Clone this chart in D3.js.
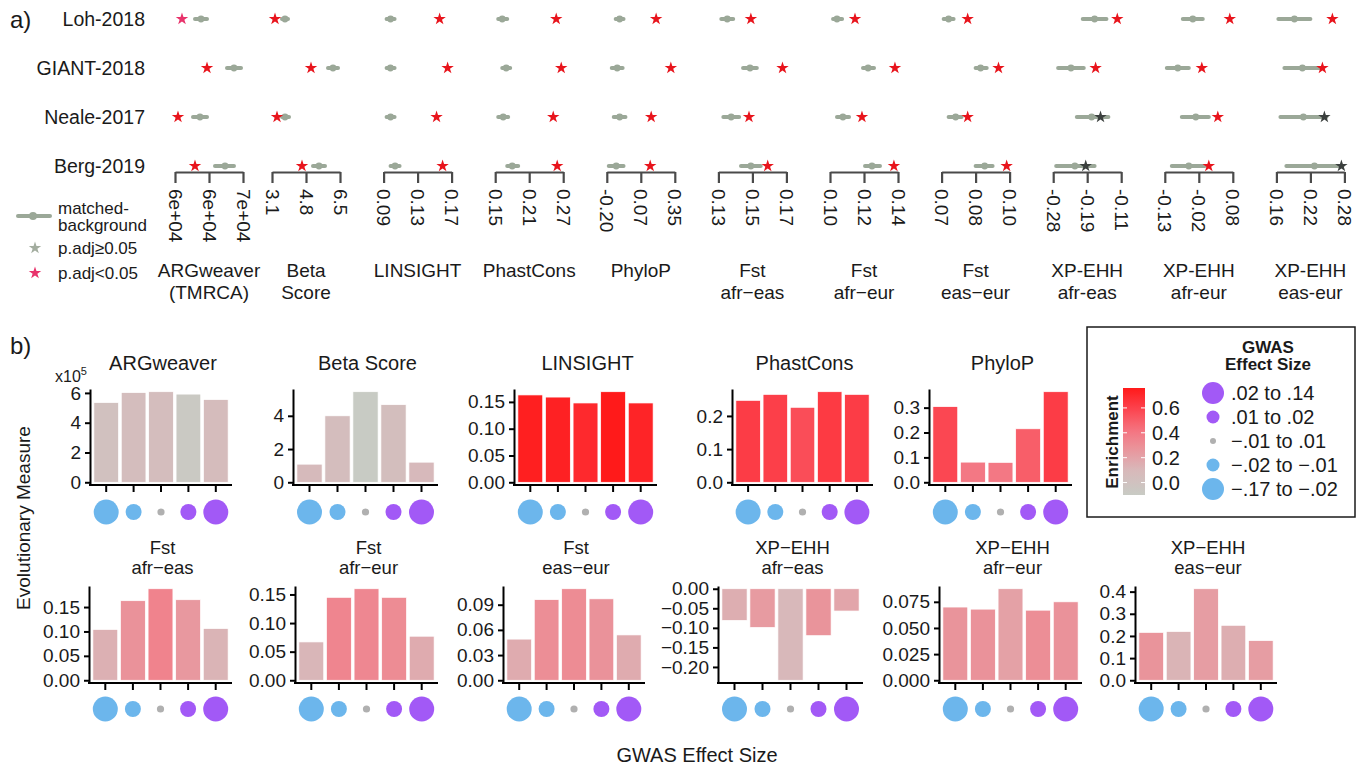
<!DOCTYPE html>
<html><head><meta charset="utf-8">
<script src="https://cdn.jsdelivr.net/npm/d3@7"></script>
<style>
body{margin:0;background:#fff}
text{font-family:"Liberation Sans",Arial,Helvetica,sans-serif;fill:#1a1a1a}
</style>
</head><body>
<svg id="c" width="1364" height="765"></svg>
<script>
// ================= DATA: panel a =================
const studies = ["Loh-2018", "GIANT-2018", "Neale-2017", "Berg-2019"];
const measuresA = ["ARGweaver\n(TMRCA)", "Beta\nScore", "LINSIGHT", "PhastCons", "PhyloP",
  "Fst\nafr\u2212eas", "Fst\nafr\u2212eur", "Fst\neas\u2212eur", "XP-EHH\nafr-eas", "XP-EHH\nafr-eur", "XP-EHH\neas-eur"];
const tickValuesA = [[55000, 62500, 70000], [3.1, 4.8, 6.5], [0.09, 0.13, 0.17], [0.15, 0.21, 0.27],
  [-0.20, 0.075, 0.35], [0.13, 0.15, 0.17], [0.10, 0.12, 0.14], [0.07, 0.085, 0.10],
  [-0.28, -0.195, -0.11], [-0.13, -0.025, 0.08], [0.16, 0.22, 0.28]];
const tickLabelsA = [["6e+04", "6e+04", "7e+04"], ["3.1", "4.8", "6.5"], ["0.09", "0.13", "0.17"],
  ["0.15", "0.21", "0.27"], ["-0.20", "0.07", "0.35"], ["0.13", "0.15", "0.17"], ["0.10", "0.12", "0.14"],
  ["0.07", "0.08", "0.10"], ["-0.28", "-0.19", "-0.11"], ["-0.13", "-0.02", "0.08"], ["0.16", "0.22", "0.28"]];

// observed (star) values
const starLoh   = [56540, 3.25, 0.1559, 0.2577, 0.199, 0.1491, 0.1147, 0.0815, -0.1198, 0.0707, 0.2588];
const starGiant = [62060, 5.05, 0.1653, 0.2665, 0.318, 0.1677, 0.1382, 0.0951, -0.174, -0.0157, 0.2412];
const starNeale = [55660, 3.35, 0.1523, 0.2524, 0.159, 0.148, 0.1188, 0.0815, -0.1617, 0.0337, 0.2447];
const starBerg  = [59410, 4.6, 0.1594, 0.2594, 0.151, 0.159, 0.1376, 0.0987, -0.1987, 0.0059, 0.2747];
// matched background: low, high, mean
const bgLowLoh    = [59410, 3.6, 0.0935, 0.1553, -0.128, 0.1317, 0.1018, 0.0709, -0.2061, -0.0744, 0.1635];
const bgHighLoh   = [62060, 3.9, 0.1029, 0.1712, -0.0645, 0.1387, 0.1071, 0.0753, -0.1469, -0.0127, 0.22];
const bgMeanLoh   = [60740, 3.75, 0.0982, 0.1624, -0.096, 0.1352, 0.1041, 0.0731, -0.1765, -0.0435, 0.1918];
const bgLowGiant  = [66470, 5.9, 0.0935, 0.1624, -0.16, 0.1445, 0.1194, 0.085, -0.2677, -0.1238, 0.1741];
const bgHighGiant = [69560, 6.4, 0.1029, 0.1765, -0.072, 0.1526, 0.1259, 0.0899, -0.2036, -0.0559, 0.2412];
const bgMeanGiant = [68010, 6.15, 0.098, 0.1694, -0.116, 0.1486, 0.1224, 0.0872, -0.2356, -0.0899, 0.2059];
const bgLowNeale  = [58970, 3.6, 0.0935, 0.1553, -0.144, 0.1329, 0.1041, 0.0731, -0.2209, -0.0775, 0.1671];
const bgHighNeale = [62060, 3.95, 0.1029, 0.1729, -0.049, 0.1422, 0.1112, 0.0788, -0.142, 0.0059, 0.2482];
const bgMeanNeale = [60510, 3.75, 0.0982, 0.1641, -0.096, 0.1375, 0.1076, 0.0762, -0.1839, -0.0343, 0.2076];
const bgLowBerg   = [63820, 5.15, 0.0982, 0.1712, -0.184, 0.1433, 0.1206, 0.085, -0.2726, -0.1084, 0.1776];
const bgHighBerg  = [68010, 5.75, 0.1088, 0.1906, -0.0645, 0.1549, 0.1294, 0.0925, -0.1765, -0.0065, 0.2765];
const bgMeanBerg  = [66030, 5.45, 0.1035, 0.18, -0.124, 0.1491, 0.1247, 0.089, -0.2258, -0.0559, 0.2271];
// star colour class: 2 = pink, 1 = red (p.adj<0.05), 0 = dark (p.adj>=0.05)
const sigLoh   = [2, 1, 1, 1, 1, 1, 1, 1, 1, 1, 1];
const sigGiant = [1, 1, 1, 1, 1, 1, 1, 1, 1, 1, 1];
const sigNeale = [1, 1, 1, 1, 1, 1, 1, 1, 0, 1, 0];
const sigBerg  = [1, 1, 1, 1, 1, 1, 1, 1, 0, 1, 0];

// ================= DATA: panel b =================
const effectBins = ["\u2212.17 to \u2212.02", "\u2212.02 to \u2212.01", "\u2212.01 to .01", ".01 to .02", ".02 to .14"];
const titlesB = ["ARGweaver", "Beta Score", "LINSIGHT", "PhastCons", "PhyloP",
  "Fst\nafr\u2212eas", "Fst\nafr\u2212eur", "Fst\neas\u2212eur", "XP\u2212EHH\nafr\u2212eas", "XP\u2212EHH\nafr\u2212eur", "XP\u2212EHH\neas\u2212eur"];
const argV   = [535000, 602000, 608000, 592000, 555000];
const betaV  = [1.09, 4.0, 5.45, 4.67, 1.21];
const linV   = [0.163, 0.159, 0.148, 0.169, 0.148];
const phastV = [0.247, 0.265, 0.226, 0.273, 0.265];
const phyloV = [0.304, 0.081, 0.080, 0.215, 0.364];
const fstAV  = [0.104, 0.163, 0.1875, 0.165, 0.106];
const fstBV  = [0.067, 0.145, 0.160, 0.145, 0.077];
const fstCV  = [0.049, 0.096, 0.109, 0.097, 0.054];
const xpAV   = [-0.081, -0.099, -0.234, -0.120, -0.057];
const xpBV   = [0.070, 0.068, 0.0875, 0.067, 0.075];
const xpCV   = [0.216, 0.220, 0.413, 0.248, 0.179];
// enrichment (fill)
const argE   = [0.01, 0.05, 0.05, -0.08, 0.06];
const betaE  = [0.08, 0.05, -0.10, 0.04, 0.09];
const linE   = [0.74, 0.73, 0.70, 0.76, 0.72];
const phastE = [0.62, 0.61, 0.56, 0.63, 0.62];
const phyloE = [0.58, 0.40, 0.40, 0.50, 0.62];
const fstAE  = [0.14, 0.28, 0.35, 0.25, 0.12];
const fstBE  = [0.11, 0.34, 0.33, 0.31, 0.16];
const fstCE  = [0.16, 0.30, 0.31, 0.28, 0.16];
const xpAE   = [0.15, 0.24, 0.10, 0.27, 0.19];
const xpBE   = [0.27, 0.28, 0.21, 0.30, 0.28];
const xpCE   = [0.27, 0.12, 0.23, 0.15, 0.23];
// y ticks
const argT = [0, 200000, 400000, 600000], argL = ["0", "2", "4", "6"];
const betaT = [0, 2, 4], betaL = ["0", "2", "4"];
const linT = [0, 0.05, 0.10, 0.15], linL = ["0.00", "0.05", "0.10", "0.15"];
const phastT = [0, 0.1, 0.2], phastL = ["0.0", "0.1", "0.2"];
const phyloT = [0, 0.1, 0.2, 0.3], phyloL = ["0.0", "0.1", "0.2", "0.3"];
const fstAT = [0, 0.05, 0.10, 0.15], fstAL = ["0.00", "0.05", "0.10", "0.15"];
const fstBT = [0, 0.05, 0.10, 0.15], fstBL = ["0.00", "0.05", "0.10", "0.15"];
const fstCT = [0, 0.03, 0.06, 0.09], fstCL = ["0.00", "0.03", "0.06", "0.09"];
const xpAT = [0, -0.05, -0.10, -0.15, -0.20], xpAL = ["0.00", "\u22120.05", "\u22120.10", "\u22120.15", "\u22120.20"];
const xpBT = [0, 0.025, 0.05, 0.075], xpBL = ["0.000", "0.025", "0.050", "0.075"];
const xpCT = [0, 0.1, 0.2, 0.3, 0.4], xpCL = ["0.0", "0.1", "0.2", "0.3", "0.4"];
const enrTicks = [0, 0.2, 0.4, 0.6], enrLabels = ["0.0", "0.2", "0.4", "0.6"];
const legendBins = [".02 to .14", ".01 to .02", "\u2212.01 to .01", "\u2212.02 to \u2212.01", "\u2212.17 to \u2212.02"];

// ================= DRAW =================
const svg = d3.select("#c");
const BG = "#9ba898";
const starColors = ["#3b403e", "#e8141c", "#e8336b"];

// ---- panel a
svg.append("text").attr("x", 10).attr("y", 19).attr("dominant-baseline", "central")
  .style("font-size", "24px").text("a)");
const rowY = [19, 68, 117, 166];
svg.selectAll("text.study").data(studies).join("text").attr("class", "study")
  .attr("x", 145).attr("y", (d, i) => rowY[i]).attr("dominant-baseline", "central")
  .attr("text-anchor", "end").style("font-size", "19.5px").text(d => d);

const rowsA = [
  {star: starLoh, lo: bgLowLoh, hi: bgHighLoh, mean: bgMeanLoh, sig: sigLoh},
  {star: starGiant, lo: bgLowGiant, hi: bgHighGiant, mean: bgMeanGiant, sig: sigGiant},
  {star: starNeale, lo: bgLowNeale, hi: bgHighNeale, mean: bgMeanNeale, sig: sigNeale},
  {star: starBerg, lo: bgLowBerg, hi: bgHighBerg, mean: bgMeanBerg, sig: sigBerg}
];
const starPath = d3.symbol(d3.symbolStar, 48)();
const axisY = 172;

measuresA.forEach((m, j) => {
  const x0 = j === 0 ? 175 : 272 + (j - 1) * 111.6;
  const tv = tickValuesA[j];
  const sc = d3.scaleLinear().domain([tv[0], tv[2]]).range([x0, x0 + 68]);
  const g = svg.append("g");
  const ax = g.append("g").attr("transform", `translate(0,${axisY})`).attr("color", "#4a4a4a")
    .call(d3.axisBottom(sc).tickValues(tv).tickFormat((d, i) => tickLabelsA[j][i]).tickSize(11).tickSizeOuter(0));
  ax.selectAll("path,line").attr("stroke-width", 2.2);
  ax.selectAll("text").attr("y", 0).attr("x", 17).attr("dy", "0.36em")
    .attr("transform", "rotate(90)").style("text-anchor", "start").style("font-size", "19px").attr("fill", "#1a1a1a");
  rowsA.forEach((r, i) => {
    const y = rowY[i];
    g.append("line").attr("x1", sc(r.lo[j])).attr("x2", sc(r.hi[j])).attr("y1", y).attr("y2", y)
      .attr("stroke", BG).attr("stroke-width", 4).attr("stroke-linecap", "round");
    g.append("circle").attr("cx", sc(r.mean[j])).attr("cy", y).attr("r", 3.4).attr("fill", BG);
    g.append("path").attr("d", starPath).attr("transform", `translate(${sc(r.star[j])},${y})`)
      .attr("fill", starColors[r.sig[j]]);
  });
  m.split("\n").forEach((t, k) => {
    g.append("text").attr("x", x0 + 34).attr("y", 270 + k * 22).attr("dominant-baseline", "central")
      .attr("text-anchor", "middle").style("font-size", "19px").text(t);
  });
});

// legend a
svg.append("line").attr("x1", 18).attr("x2", 50).attr("y1", 216).attr("y2", 216)
  .attr("stroke", BG).attr("stroke-width", 4).attr("stroke-linecap", "round");
svg.append("circle").attr("cx", 33).attr("cy", 216).attr("r", 4).attr("fill", BG);
[["matched-", 208], ["background", 225]].forEach(([t, y]) =>
  svg.append("text").attr("x", 58).attr("y", y).attr("dominant-baseline", "central").style("font-size", "17px").text(t));
svg.append("path").attr("d", starPath).attr("transform", "translate(35,248)").attr("fill", "#a3ad9f");
svg.append("path").attr("d", starPath).attr("transform", "translate(35,273)").attr("fill", "#e8336b");
svg.append("text").attr("x", 58).attr("y", 248).attr("dominant-baseline", "central").style("font-size", "17px").text("p.adj\u22650.05");
svg.append("text").attr("x", 58).attr("y", 273).attr("dominant-baseline", "central").style("font-size", "17px").text("p.adj<0.05");

// ---- panel b
svg.append("text").attr("x", 10).attr("y", 345).attr("dominant-baseline", "central")
  .style("font-size", "24px").text("b)");

const allE = [argE, betaE, linE, phastE, phyloE, fstAE, fstBE, fstCE, xpAE, xpBE, xpCE].flat();
const enrExt = d3.extent(allE);
// grey -> pink -> red palette
const palette = ["#c8cbc4", "#d8b8ba", "#e3a3a8", "#ec8e96", "#f37884", "#f85e69", "#fc414c", "#ff1a1a"];
const palStops = [0, 0.2326, 0.3488, 0.4651, 0.5814, 0.6977, 0.8140, 1];
const color = d3.scaleLinear()
  .domain(palStops.map(t => enrExt[0] + t * (enrExt[1] - enrExt[0])))
  .range(palette).interpolate(d3.interpolateRgb).clamp(true);

const panelsB = [
  {v: argV, e: argE, t: argT, l: argL}, {v: betaV, e: betaE, t: betaT, l: betaL},
  {v: linV, e: linE, t: linT, l: linL}, {v: phastV, e: phastE, t: phastT, l: phastL},
  {v: phyloV, e: phyloE, t: phyloT, l: phyloL}, {v: fstAV, e: fstAE, t: fstAT, l: fstAL},
  {v: fstBV, e: fstBE, t: fstBT, l: fstBL}, {v: fstCV, e: fstCE, t: fstCT, l: fstCL},
  {v: xpAV, e: xpAE, t: xpAT, l: xpAL}, {v: xpBV, e: xpBE, t: xpBT, l: xpBL},
  {v: xpCV, e: xpCE, t: xpCT, l: xpCL}
];
const axStart = [90, 293, 514, 732, 929, 89, 295, 503, 718, 939, 1135];
const axEnd = [232, 438, 657, 873, 1072, 232, 438, 645, 863, 1082, 1277];
const dotR = [12.5, 8, 3.6, 8, 12.5];
const dotC = ["#6cb6ec", "#6cb6ec", "#b0b0b0", "#a259f6", "#a259f6"];

panelsB.forEach((p, k) => {
  const row2 = k >= 5;
  const yb = row2 ? 683 : 485, yt = row2 ? 586 : 389;
  const dotsY = row2 ? 709 : 512;
  const a0 = axStart[k], a1 = axEnd[k];
  const lo = Math.min(0, d3.min(p.v)), hi = Math.max(0, d3.max(p.v)), R = hi - lo;
  const y = d3.scaleLinear().domain([lo - 0.03 * R, hi + 0.03 * R]).range([yb, yt]);
  const x = d3.scaleBand().domain(d3.range(5)).range([a0 + 2.5, a1 - 2.5]).paddingInner(0.1).paddingOuter(0.05);
  const g = svg.append("g");
  g.selectAll("rect").data(p.v).join("rect")
    .attr("x", (d, i) => x(i)).attr("width", x.bandwidth())
    .attr("y", d => y(Math.max(0, d))).attr("height", d => Math.abs(y(d) - y(0)))
    .attr("fill", (d, i) => color(p.e[i])).attr("stroke", "#fff").attr("stroke-width", 0.7);
  const ya = g.append("g").attr("transform", `translate(${a0},0)`).attr("color", "#000")
    .call(d3.axisLeft(y).tickValues(p.t).tickFormat((d, i) => p.l[i]).tickSize(5).tickPadding(4).tickSizeOuter(0));
  ya.selectAll("path,line").attr("stroke-width", 2);
  ya.selectAll("text").style("font-size", "19px").attr("fill", "#1a1a1a");
  const xa = g.append("g").attr("transform", `translate(0,${yb})`).attr("color", "#000")
    .call(d3.axisBottom(x).tickSize(7).tickFormat(""));
  xa.select(".domain").remove();
  xa.selectAll("line").attr("stroke-width", 2);
  g.append("line").attr("x1", a0 - 1).attr("x2", a1).attr("y1", yb).attr("y2", yb)
    .attr("stroke", "#000").attr("stroke-width", 2);
  g.selectAll("circle").data(effectBins).join("circle")
    .attr("cx", (d, i) => x(i) + x.bandwidth() / 2).attr("cy", dotsY)
    .attr("r", (d, i) => dotR[i]).attr("fill", (d, i) => dotC[i]);
  const lines = titlesB[k].split("\n");
  lines.forEach((t, i) => {
    const ty = row2 ? 547 + i * 20 : 363;
    g.append("text").attr("x", (a0 + a1) / 2 + 2).attr("y", ty).attr("dominant-baseline", "central")
      .attr("text-anchor", "middle").style("font-size", row2 ? "18.5px" : "20px").text(t);
  });
});

// x10^5
const xt = svg.append("text").attr("x", 55).attr("y", 382).style("font-size", "16px");
xt.append("tspan").text("x10");
xt.append("tspan").attr("dy", -7).style("font-size", "11px").text("5");

// axis titles
svg.append("text").attr("transform", "translate(23,518) rotate(-90)").attr("text-anchor", "middle")
  .attr("dominant-baseline", "central").style("font-size", "19px").text("Evolutionary Measure");
svg.append("text").attr("x", 697).attr("y", 755).attr("text-anchor", "middle")
  .attr("dominant-baseline", "central").style("font-size", "20px").text("GWAS Effect Size");

// ---- legend box
svg.append("rect").attr("x", 1087).attr("y", 327).attr("width", 268).attr("height", 190)
  .attr("fill", "none").attr("stroke", "#1a1a1a").attr("stroke-width", 1.5);
svg.append("text").attr("transform", "translate(1112,442) rotate(-90)").attr("text-anchor", "middle")
  .attr("dominant-baseline", "central").style("font-size", "17px").style("font-weight", "bold").text("Enrichment");
const defs = svg.append("defs");
const grad = defs.append("linearGradient").attr("id", "eg").attr("x1", 0).attr("y1", 1).attr("x2", 0).attr("y2", 0);
d3.range(0, 1.0001, 0.025).forEach(t => grad.append("stop").attr("offset", t)
  .attr("stop-color", color(enrExt[0] + t * (enrExt[1] - enrExt[0]))));
const cb = d3.scaleLinear().domain(enrExt).range([495, 388]);
svg.append("rect").attr("x", 1123).attr("y", 388).attr("width", 22).attr("height", 107).attr("fill", "url(#eg)");
enrTicks.forEach((t, i) => {
  svg.append("line").attr("x1", 1123).attr("x2", 1127).attr("y1", cb(t)).attr("y2", cb(t)).attr("stroke", "#fff").attr("stroke-width", 1);
  svg.append("line").attr("x1", 1141).attr("x2", 1145).attr("y1", cb(t)).attr("y2", cb(t)).attr("stroke", "#fff").attr("stroke-width", 1);
  svg.append("text").attr("x", 1152).attr("y", cb(t)).attr("dominant-baseline", "central").style("font-size", "20px").text(enrLabels[i]);
});
svg.append("text").attr("x", 1268).attr("y", 347).attr("text-anchor", "middle").attr("dominant-baseline", "central")
  .style("font-size", "17px").style("font-weight", "bold").text("GWAS");
svg.append("text").attr("x", 1268).attr("y", 364).attr("text-anchor", "middle").attr("dominant-baseline", "central")
  .style("font-size", "17px").style("font-weight", "bold").text("Effect Size");
const legR = [11, 6.5, 3, 6.5, 11];
const legC = ["#a259f6", "#a259f6", "#b0b0b0", "#6cb6ec", "#6cb6ec"];
legendBins.forEach((b, i) => {
  const yy = 393 + i * 24;
  svg.append("circle").attr("cx", 1213).attr("cy", yy).attr("r", legR[i]).attr("fill", legC[i]);
  svg.append("text").attr("x", 1231).attr("y", yy).attr("dominant-baseline", "central").style("font-size", "20px").text(b);
});
</script>
</body></html>
